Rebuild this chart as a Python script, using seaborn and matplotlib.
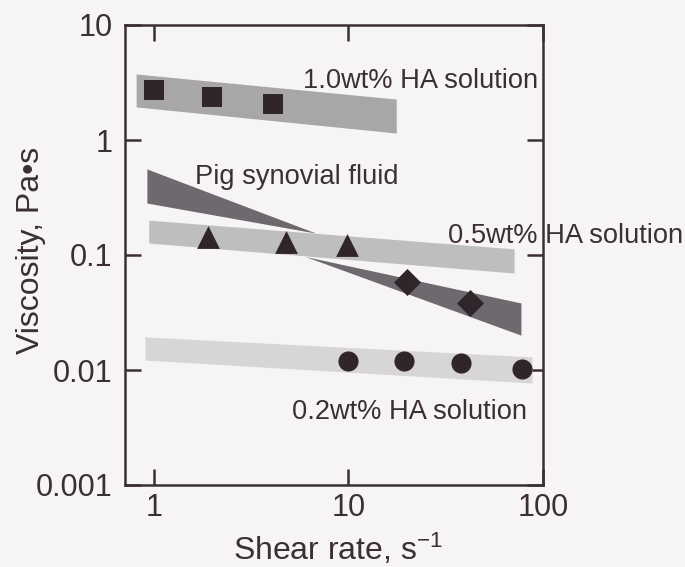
import numpy as np
import pandas as pd
import matplotlib
matplotlib.use("Agg")
import matplotlib.pyplot as plt
import seaborn as sns

# ---------------- data ----------------
# measured points (shear rate s^-1, viscosity Pa.s)
ha10_x = [1.0, 2.0, 4.1]
ha10_y = [2.7, 2.35, 2.05]
ha05_x = [1.9, 4.8, 9.8]
ha05_y = [0.142, 0.131, 0.122]
pig_x = [20.0, 42.0]
pig_y = [0.058, 0.038]
ha02_x = [9.9, 19.4, 38.0, 78.0]
ha02_y = [0.0120, 0.0120, 0.0115, 0.0102]

# shaded bands: x ends, lower and upper edges
band10_x = [0.81, 17.6]
band10_lo = [1.94, 1.15]
band10_hi = [3.75, 2.27]

band05_x = [0.94, 71.0]
band05_lo = [0.127, 0.0697]
band05_hi = [0.201, 0.113]

pig_up_x = [0.92, 6.8]
pig_up_lo = [0.283, 0.155]
pig_up_hi = [0.560, 0.155]
pig_low_x = [6.0, 77.0]
pig_low_lo = [0.097, 0.0201]
pig_low_hi = [0.097, 0.0383]

band02_x = [0.90, 87.8]
band02_lo = [0.0122, 0.0077]
band02_hi = [0.0194, 0.0130]

xticks = [1, 10, 100]
xticklabels = ["1", "10", "100"]
yticks = [0.001, 0.01, 0.1, 1, 10]
yticklabels = ["0.001", "0.01", "0.1", "1", "10"]

labels = ["1.0wt% HA solution", "Pig synovial fluid",
          "0.5wt% HA solution", "0.2wt% HA solution"]

# ---------------- style ----------------
sns.set_theme(style="ticks")
ink = "#3b2f34"
bg = "#f6f4f4"
plt.rcParams["font.family"] = ["Liberation Sans", "DejaVu Sans"]
plt.rcParams["mathtext.fontset"] = "custom"
plt.rcParams["mathtext.rm"] = "Liberation Sans"
plt.rcParams["mathtext.it"] = "Liberation Sans:italic"
plt.rcParams["mathtext.bf"] = "Liberation Sans:bold"

fig = plt.figure(figsize=(6.85, 5.67), dpi=100, facecolor=bg)
ax = fig.add_axes([125 / 685, 1 - 485 / 567, 418 / 685, 460 / 567])
ax.set_facecolor(bg)
ax.set_xscale("log")
ax.set_yscale("log")

c10 = "#a8a6a8"
c05 = "#bfbebf"
cpig = "#6e696e"
c02 = "#d7d5d6"
cmark = "#2f252b"

ax.fill_between(band10_x, band10_lo, band10_hi, color=c10, lw=0, zorder=1)
ax.fill_between(pig_up_x, pig_up_lo, pig_up_hi, color=cpig, lw=0, zorder=1)
ax.fill_between(pig_low_x, pig_low_lo, pig_low_hi, color=cpig, lw=0, zorder=1)
ax.fill_between(band05_x, band05_lo, band05_hi, color=c05, lw=0, zorder=2)
ax.fill_between(band02_x, band02_lo, band02_hi, color=c02, lw=0, zorder=1)

df10 = pd.DataFrame({"x": ha10_x, "y": ha10_y})
df05 = pd.DataFrame({"x": ha05_x, "y": ha05_y})
dfpig = pd.DataFrame({"x": pig_x, "y": pig_y})
df02 = pd.DataFrame({"x": ha02_x, "y": ha02_y})

sns.scatterplot(data=df10, x="x", y="y", marker="s", s=225, color=cmark,
                linewidth=0, ax=ax, zorder=3, legend=False)
sns.scatterplot(data=df05, x="x", y="y", marker="^", s=270, color=cmark,
                linewidth=0, ax=ax, zorder=3, legend=False)
sns.scatterplot(data=dfpig, x="x", y="y", marker="D", s=190, color=cmark,
                linewidth=0, ax=ax, zorder=3, legend=False)
sns.scatterplot(data=df02, x="x", y="y", marker="o", s=210, color=cmark,
                linewidth=0, ax=ax, zorder=3, legend=False)

ax.set_xlim(0.71, 100)
ax.set_ylim(0.001, 10)
ax.set_xticks(xticks)
ax.set_xticklabels(xticklabels)
ax.set_yticks(yticks)
ax.set_yticklabels(yticklabels)
ax.minorticks_off()
ax.tick_params(which="major", direction="in", length=11.5, width=1.8,
               color=ink, labelcolor=ink, labelsize=22,
               top=True, right=True)
ax.tick_params(axis="x", pad=6)
ax.tick_params(axis="y", pad=9)
for s in ax.spines.values():
    s.set_color(ink)
    s.set_linewidth(1.8)
    s.set_visible(True)
    s.set_zorder(4)

ax.set_xlabel(r"Shear rate, s$^{\mathrm{-1}}$", fontsize=23, color=ink)
ax.set_ylabel("Viscosity, Pa\u2022s", fontsize=23, color=ink)
ax.xaxis.set_label_coords(0.51, -0.102)
ax.yaxis.set_label_coords(-0.19, 0.51)

tkw = dict(transform=ax.transAxes, fontsize=19.6, color=ink, va="center",
           ha="left", clip_on=False, zorder=5)
ax.text(0.426, 0.878, labels[0], **tkw)
ax.text(0.167, 0.670, labels[1], **tkw)
ax.text(0.773, 0.541, labels[2], **tkw)
ax.text(0.400, 0.159, labels[3], **tkw)

fig.savefig("out.png", dpi=100, facecolor=bg)
